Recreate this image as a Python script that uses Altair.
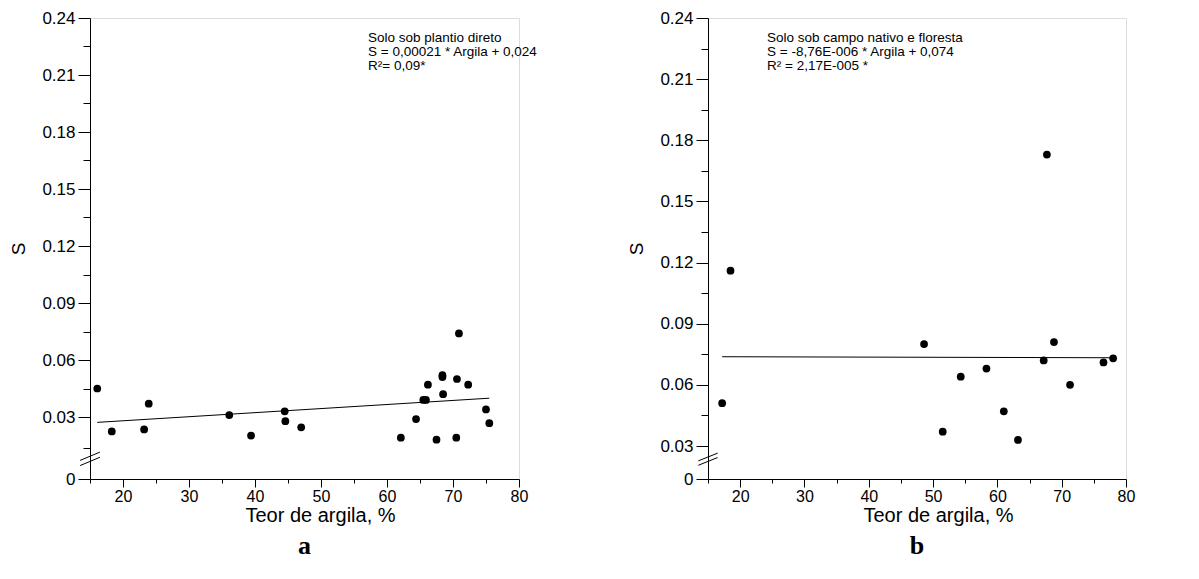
import altair as alt
import pandas as pd

# ---- data ----
x_left = [16.1, 18.3, 23.2, 23.9, 36.1, 39.4, 44.5, 44.6, 47.0, 62.1, 64.4, 65.5,
          65.9, 66.2, 67.5, 68.4, 68.4, 68.5, 70.9, 70.6, 70.5, 72.3, 75.0, 75.5]
y_left = [0.045, 0.023, 0.024, 0.037, 0.031, 0.021, 0.033, 0.028, 0.025, 0.020, 0.029, 0.039,
          0.039, 0.047, 0.019, 0.052, 0.051, 0.042, 0.074, 0.050, 0.020, 0.047, 0.034, 0.027]
line_left_x = [16.1, 75.5]
line_left_y = [0.0274, 0.0399]

x_right = [17.2, 18.5, 48.6, 51.5, 54.3, 58.3, 61.0, 63.2, 67.2, 67.7, 68.8, 71.3, 76.5, 78.0]
y_right = [0.051, 0.116, 0.080, 0.037, 0.064, 0.068, 0.047, 0.033, 0.072, 0.173, 0.081, 0.060, 0.071, 0.073]
line_right_x = [17.2, 78.0]
line_right_y = [0.0738, 0.0733]

x_ticks = [15, 20, 25, 30, 35, 40, 45, 50, 55, 60, 65, 70, 75, 80]
y_ticks_left = [0, 0.015, 0.03, 0.045, 0.06, 0.075, 0.09, 0.105, 0.12, 0.135, 0.15,
                0.165, 0.18, 0.195, 0.21, 0.225, 0.24]
y_ticks_right = [0, 0.03, 0.045, 0.06, 0.075, 0.09, 0.105, 0.12, 0.135, 0.15,
                 0.165, 0.18, 0.195, 0.21, 0.225, 0.24]

text_left = ["Solo sob plantio direto", "S = 0,00021 * Argila + 0,024", "R\u00b2= 0,09*"]
text_right = ["Solo sob campo nativo e floresta", "S = -8,76E-006 * Argila + 0,074", "R\u00b2 = 2,17E-005 *"]

# axis-break slashes (two short parallel strokes on the y axis)
brk_x = [13.5, 16.5]
brk_left_y = [[0.0065, 0.0105], [0.0090, 0.0130]]
brk_right_y = [[0.0125, 0.0195], [0.0165, 0.0235]]

WL = 429
WR = 418
H = 461
FONT = "Liberation Sans"


def panel(xs, ys, lx, ly, yticks, yrange, texts, brk_y, letter, W, tx):
    pts = pd.DataFrame({"x": xs, "y": ys})
    ln = pd.DataFrame({"x": lx, "y": ly})
    xscale = alt.Scale(domain=[15, 80], nice=False)
    yscale = alt.Scale(domain=[0, 0.03, 0.24], range=yrange)
    xaxis = alt.Axis(
        values=x_ticks, title="Teor de argila, %", grid=False,
        labelExpr="datum.value % 10 == 0 ? datum.label : ''",
        tickSize={"condition": {"test": "datum.value % 10 == 0", "value": 8}, "value": 4},
        labelFontSize=16, titleFontSize=20, titleFontWeight="normal",
        labelPadding=1, titlePadding=1, labelFlush=False, labelOverlap=False,
        titleX=230,
        domainColor="black", tickColor="black", labelColor="black", titleColor="black",
    )
    yaxis = alt.Axis(
        values=yticks, title="S", grid=False,
        labelExpr="datum.value == 0 ? '0' : (round(datum.value*1000) % 30 == 0 ? format(datum.value, '.2f') : '')",
        tickSize={"condition": {"test": "round(datum.value*1000) % 30 == 0", "value": 12}, "value": 7},
        labelFontSize=17, titleFontSize=19, titleFontWeight="normal", labelOverlap=False,
        labelPadding=3, titleX=-72, titleY=H / 2, titleBaseline="middle",
        domainColor="black", tickColor="black", labelColor="black", titleColor="black",
    )
    X = lambda f: alt.X(f, scale=xscale, axis=xaxis)
    Y = lambda f: alt.Y(f, scale=yscale, axis=yaxis)
    points = alt.Chart(pts).mark_circle(size=60, color="black", opacity=1).encode(
        x=X("x:Q"), y=Y("y:Q"),
    )
    line = alt.Chart(ln).mark_line(color="black", strokeWidth=1).encode(
        x=X("x:Q"), y=Y("y:Q")
    )
    layers = [points, line]
    for (y0, y1) in brk_y:
        bd = pd.DataFrame({"x": [brk_x[0]], "x2": [brk_x[1]], "y": [y0], "y2": [y1]})
        layers.append(
            alt.Chart(bd).mark_rule(color="black", strokeWidth=1, clip=False).encode(
                x=X("x:Q"), x2="x2:Q", y=Y("y:Q"), y2="y2:Q",
            )
        )
    dummy = pd.DataFrame({"a": [0]})
    for i, t in enumerate(texts):
        layers.append(
            alt.Chart(dummy).mark_text(align="left", baseline="middle", font=FONT,
                                       fontSize=13.5, color="black").encode(
                x=alt.value(tx), y=alt.value(20 + 14 * i), text=alt.value(t)
            )
        )
    return alt.layer(*layers).properties(
        width=W, height=H,
        title=alt.TitleParams(text=letter, orient="bottom", font="Liberation Serif",
                              fontSize=26, fontWeight="bold", color="black", offset=8),
    )


left = panel(x_left, y_left, line_left_x, line_left_y, y_ticks_left, [H, H - 62, 0],
             text_left, brk_left_y, "a", WL, 278)
right = panel(x_right, y_right, line_right_x, line_right_y, y_ticks_right, [H, H - 33, 0],
              text_right, brk_right_y, "b", WR, 59)

chart = alt.hconcat(left, right, spacing=189, bounds="flush").properties(
    padding=0
).configure_view(stroke=None).configure(font=FONT).configure_axis(
    labelFont=FONT, titleFont=FONT, labelOverlap=False
)

chart.save("out.html", embed_options={"renderer": "svg", "actions": False})
